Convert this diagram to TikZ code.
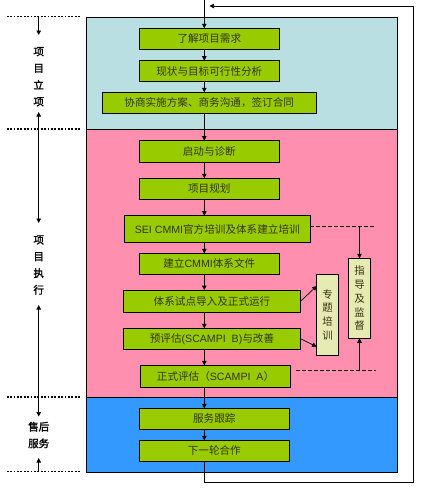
\documentclass[tikz,border=0pt]{standalone}
\usepackage{fontspec}
\setmainfont{Noto Sans CJK SC}
\newfontfamily\cjkbold[FakeBold=1.5]{Noto Sans CJK SC}
\newfontfamily\lat{Liberation Sans}
\usetikzlibrary{arrows.meta}
\definecolor{panelA}{HTML}{BADFE2}
\definecolor{panelB}{HTML}{FF8FAF}
\definecolor{panelC}{HTML}{3399FF}
\definecolor{boxgreen}{HTML}{99CC00}
\definecolor{sidefill}{HTML}{E6EBB4}
\definecolor{boxtext}{HTML}{33330A}
\tikzset{
  procbox/.style={draw=black, line width=0.9pt, fill=boxgreen, inner sep=0pt, outer sep=0pt,
    text=boxtext, font=\fontsize{10.6}{12}\selectfont},
  sidebox/.style={draw=black, line width=0.9pt, fill=sidefill, inner sep=0pt, outer sep=0pt,
    text=boxtext, align=center, minimum width=21.6pt, font=\fontsize{10.4}{13.8}\selectfont},
  panel/.style={draw=black, line width=0.7pt},
  arr/.style={line width=0.7pt, -{Triangle[length=4.5pt,width=4.5pt]}},
  dashconn/.style={line width=0.6pt, dash pattern=on 3.5pt off 2.5pt},
  dotline/.style={line width=1.6pt, dash pattern=on 1.8pt off 1.6pt},
  sidelabel/.style={align=center, inner sep=0pt, font=\cjkbold\fontsize{10.5}{16.7}\selectfont}
}
\begin{document}
\begin{tikzpicture}[x=1pt,y=-1pt]
\useasboundingbox (0,0) rectangle (421,490);
% panels
\fill[panelA] (86.7,17.3) rectangle (397.3,129);
\fill[panelB] (86.7,129) rectangle (397.3,397.3);
\fill[panelC] (86.7,397.3) rectangle (397.3,472);
\draw[panel] (86.7,17.3) rectangle (397.3,472);
\draw[panel] (86.7,129) -- (397.3,129);
\draw[panel] (86.7,397.3) -- (397.3,397.3);
% left dotted separators
\foreach \yy in {16.5,129,397,471.5} \draw[dotline] (6.7,\yy) -- (80,\yy);
% left labels
\node[sidelabel] (l1) at (38.7,76.7) {项\\目\\立\\项};
\node[sidelabel] (l2) at (38.7,265) {项\\目\\执\\行};
\node[sidelabel] (l3) at (38.7,435) {售后\\服务};
\coordinate (s0) at (38.7,16.5);
\coordinate (s1) at (38.7,129);
\coordinate (s2) at (38.7,397);
\coordinate (s3) at (38.7,471.5);
\draw[arr] (s0) -- (38.7,35);
\draw[arr] (s1) -- (38.7,112);
\draw[arr] (s1) -- (38.7,223);
\draw[arr] (s2) -- (38.7,305);
\draw[arr] (s2) -- (38.7,416.5);
\draw[arr] (s3) -- (38.7,458);
% main boxes
\node[procbox, minimum width=140pt, minimum height=21pt] (b1) at (209.3,38.8) {了解项目需求};
\node[procbox, minimum width=140pt, minimum height=20.6pt] (b2) at (209.3,71) {现状与目标可行性分析};
\node[procbox, minimum width=213.7pt, minimum height=21pt] (b3) at (209.2,102.8) {协商实施方案、商务沟通，签订合同};
\node[procbox, minimum width=140pt, minimum height=21.6pt] (b4) at (209.3,151.5) {启动与诊断};
\node[procbox, minimum width=140pt, minimum height=21pt] (b5) at (209.3,188.8) {项目规划};
\node[procbox, minimum width=186pt, minimum height=26.6pt] (b6) at (217.3,229) {{\lat SEI CMMI}官方培训及体系建立培训};
\node[procbox, minimum width=140pt, minimum height=20.7pt] (b7) at (209.3,263.7) {建立{\lat CMMI}体系文件};
\node[procbox, minimum width=177.4pt, minimum height=22.3pt] (b8) at (212,301.2) {体系试点导入及正式运行};
\node[procbox, minimum width=177.4pt, minimum height=21pt] (b9) at (212,338.8) {预评估{\lat (SCAMPI\ \ B)}与改善};
\node[procbox, minimum width=150.4pt, minimum height=22pt] (b10) at (215.5,376.3) {正式评估（{\lat SCAMPI\ \ A}）};
\node[procbox, minimum width=150pt, minimum height=21pt] (b11) at (214.3,418.8) {服务跟踪};
\node[procbox, minimum width=150pt, minimum height=21pt] (b12) at (214.3,450.8) {下一轮合作};
% side boxes
\node[sidebox, minimum height=81pt] (t) at (327.5,314.8) {专\\题\\培\\训};
\node[sidebox, minimum height=80pt] (g) at (359.5,298.3) {指\\导\\及\\监\\督};
% main flow
\coordinate (ax) at (204.3,0);
\draw[arr] (ax) -- (b1.north -| ax);
\draw[arr] (b1.south -| ax) -- (b2.north -| ax);
\draw[arr] (b2.south -| ax) -- (b3.north -| ax);
\draw[arr] (b3.south -| ax) -- (b4.north -| ax);
\draw[arr] (b4.south -| ax) -- (b5.north -| ax);
\draw[arr] (b5.south -| ax) -- (b6.north -| ax);
\draw[arr] (b6.south -| ax) -- (b7.north -| ax);
\draw[arr] (b7.south -| ax) -- (b8.north -| ax);
\draw[arr] (b8.south -| ax) -- (b9.north -| ax);
\draw[arr] (b9.south -| ax) -- (b10.north -| ax);
\draw[arr] (b10.south -| ax) -- (b11.north -| ax);
\draw[arr] (b11.south -| ax) -- (b12.north -| ax);
% feedback loop
\coordinate (fb) at (209.5,6);
\draw[arr] (b12.south -| ax) -- (204.3,482.7) -- (413,482.7) -- (413,6) -- (fb);
% side arrows
\draw[arr] (b8.east) -- (t.west |- 0,286);
\draw[arr] (b9.east) -- (t.west |- 0,346.7);
% dashed connectors and guidance arrows
\coordinate (d1) at (375,226);
\coordinate (d2s) at (296,370.7);
\coordinate (d2) at (375.7,370.7);
\draw[dashconn] (b6.east |- d1) -- (d1);
\draw[dashconn] (d2s) -- (d2);
\draw[arr] (g.north |- d1) -- (g.north);
\draw[arr] (g.south |- d2) -- (g.south);
\end{tikzpicture}
\end{document}
